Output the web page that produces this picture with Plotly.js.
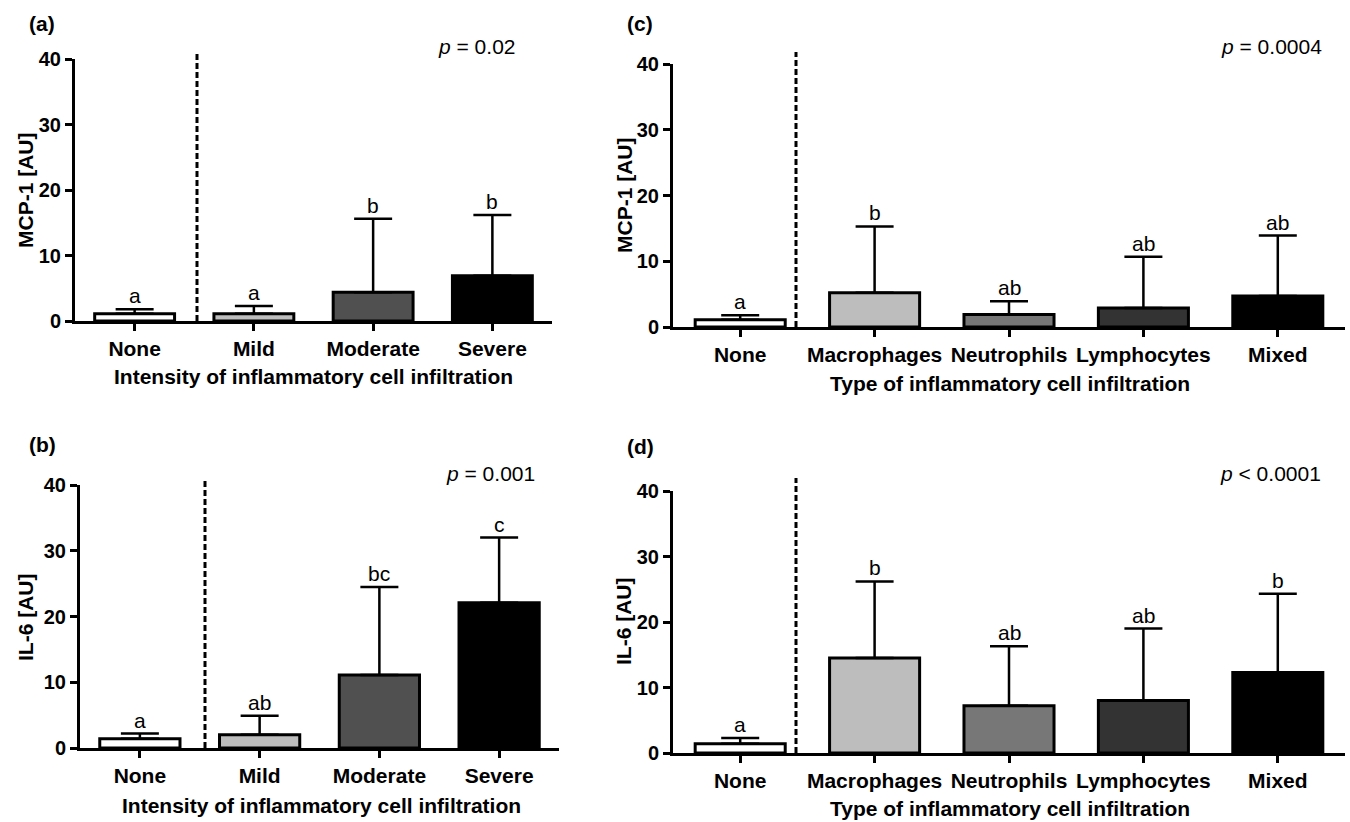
<!DOCTYPE html>
<html>
<head>
<meta charset="utf-8">
<script src="https://cdn.plot.ly/plotly-3.0.1.min.js"></script>
<style>
  html, body { margin: 0; padding: 0; background: #fff; }
  #chart { width: 1350px; height: 822px; }
</style>
</head>
<body>
<div id="chart"></div>
<script>
// ---------- data ----------
const catsIntensity = ['None', 'Mild', 'Moderate', 'Severe'];
const catsType = ['None', 'Macrophages', 'Neutrophils', 'Lymphocytes', 'Mixed'];

const mcp1IntensityMean = [1.1, 1.1, 4.4, 6.9];
const mcp1IntensitySD   = [0.7, 1.2, 11.2, 9.3];
const il6IntensityMean  = [1.4, 2.0, 11.1, 22.1];
const il6IntensitySD    = [0.8, 2.9, 13.4, 9.9];

const mcp1TypeMean = [1.1, 5.2, 1.9, 2.9, 4.7];
const mcp1TypeSD   = [0.7, 10.1, 2.0, 7.8, 9.2];
const il6TypeMean  = [1.4, 14.5, 7.2, 8.0, 12.3];
const il6TypeSD    = [0.9, 11.7, 9.1, 11.0, 12.0];

const lettersMcp1Intensity = ['a', 'a', 'b', 'b'];
const lettersIl6Intensity  = ['a', 'ab', 'bc', 'c'];
const lettersMcp1Type      = ['a', 'b', 'ab', 'ab', 'ab'];
const lettersIl6Type       = ['a', 'b', 'ab', 'ab', 'b'];

const pValues = ['<i>p</i> = 0.02', '<i>p</i> = 0.001', '<i>p</i> = 0.0004', '<i>p</i> < 0.0001'];
const panelLabels = ['(a)', '(b)', '(c)', '(d)'];
const yTitles = ['MCP-1 [AU]', 'IL-6 [AU]', 'MCP-1 [AU]', 'IL-6 [AU]'];
const xTitles = ['Intensity of inflammatory cell infiltration', 'Intensity of inflammatory cell infiltration',
                 'Type of inflammatory cell infiltration', 'Type of inflammatory cell infiltration'];
const yTicks = [0, 10, 20, 30, 40];

// ---------- styling / layout ----------
const W = 1350, H = 822;
const px = v => v / W;
const py = v => 1 - v / H;
const FONT = 'Arial, "Liberation Sans", Helvetica, sans-serif';

const colorsIntensity = ['#ffffff', '#bdbdbd', '#505050', '#000000'];
const colorsType = ['#ffffff', '#bdbdbd', '#777777', '#333333', '#000000'];

// panel geometry in pixels: x axis left/right, y-axis pixel of 0 and 40
const panels = [
  {cats: catsIntensity, mean: mcp1IntensityMean, sd: mcp1IntensitySD, letters: lettersMcp1Intensity, colors: colorsIntensity,
   x0: 75, x1: 552, yb: 321, yt: 59, sep: 197, sepTop: 52, lab: [27, 23], pv: [518, 46], yt_t: [25, 190], xt_t: [313, 377]},
  {cats: catsIntensity, mean: il6IntensityMean, sd: il6IntensitySD, letters: lettersIl6Intensity, colors: colorsIntensity,
   x0: 80, x1: 559, yb: 748, yt: 485, sep: 205, sepTop: 478, lab: [27, 445], pv: [537, 473], yt_t: [25, 617], xt_t: [321, 805]},
  {cats: catsType, mean: mcp1TypeMean, sd: mcp1TypeSD, letters: lettersMcp1Type, colors: colorsType,
   x0: 673, x1: 1345, yb: 327, yt: 64, sep: 796, sepTop: 52, lab: [625, 23], pv: [1324, 46], yt_t: [624, 195], xt_t: [1010, 383]},
  {cats: catsType, mean: il6TypeMean, sd: il6TypeSD, letters: lettersIl6Type, colors: colorsType,
   x0: 673, x1: 1345, yb: 753, yt: 491, sep: 796, sepTop: 478, lab: [625, 447], pv: [1323, 473], yt_t: [623, 621], xt_t: [1010, 808]}
];

const data = [];
const layout = {
  width: W, height: H,
  margin: {l: 0, r: 0, t: 0, b: 0, pad: 0},
  paper_bgcolor: '#ffffff', plot_bgcolor: 'rgba(0,0,0,0)',
  showlegend: false,
  font: {family: FONT, color: '#000'},
  annotations: [], shapes: []
};

panels.forEach((p, i) => {
  const n = i + 1;
  const xa = n === 1 ? 'x' : 'x' + n;
  const ya = n === 1 ? 'y' : 'y' + n;
  data.push({
    type: 'bar', x: p.cats, y: p.mean, xaxis: xa, yaxis: ya,
    width: 0.67,
    marker: {color: p.colors, line: {color: '#000', width: 3}},
    error_y: {type: 'data', symmetric: false, array: p.sd, arrayminus: p.sd.map(() => 0),
              color: '#000', thickness: 2.5, width: 19},
    hoverinfo: 'x+y'
  });
  layout['xaxis' + (n === 1 ? '' : n)] = {
    domain: [px(p.x0), px(p.x1)], anchor: ya, type: 'category',
    range: [-0.5, p.cats.length - 0.5],
    showline: true, linewidth: 3, linecolor: '#000', mirror: false,
    ticks: 'outside', ticklen: 7, tickwidth: 3, tickcolor: '#000',
    tickfont: {family: FONT, size: 21, weight: 700, color: '#000'},
    showgrid: false, zeroline: false, fixedrange: true
  };
  layout['yaxis' + (n === 1 ? '' : n)] = {
    domain: [py(p.yb), py(p.yt)], anchor: xa, range: [0, 40],
    tickvals: yTicks, ticktext: yTicks.map(String),
    showline: true, linewidth: 3, linecolor: '#000',
    ticks: 'outside', ticklen: 7, tickwidth: 3, tickcolor: '#000',
    tickfont: {family: FONT, size: 20, weight: 700, color: '#000'},
    showgrid: false, zeroline: false, fixedrange: true
  };
  // significance letters
  p.cats.forEach((c, k) => {
    layout.annotations.push({
      xref: xa, yref: ya, x: c, y: p.mean[k] + p.sd[k],
      text: p.letters[k], showarrow: false, yanchor: 'bottom', yshift: 0,
      font: {family: FONT, size: 21, color: '#000'}
    });
  });
  // panel label
  layout.annotations.push({xref: 'paper', yref: 'paper', x: px(p.lab[0]), y: py(p.lab[1]),
    xanchor: 'left', yanchor: 'middle', text: panelLabels[i], showarrow: false,
    font: {family: FONT, size: 21, weight: 700, color: '#000'}});
  // p value
  layout.annotations.push({xref: 'paper', yref: 'paper', x: px(p.pv[0]), y: py(p.pv[1]),
    xanchor: 'right', yanchor: 'middle', text: pValues[i], showarrow: false,
    font: {family: FONT, size: 21, color: '#000'}});
  // y title
  layout.annotations.push({xref: 'paper', yref: 'paper', x: px(p.yt_t[0]), y: py(p.yt_t[1]),
    xanchor: 'center', yanchor: 'middle', textangle: -90, text: yTitles[i], showarrow: false,
    font: {family: FONT, size: 21, weight: 700, color: '#000'}});
  // x title
  layout.annotations.push({xref: 'paper', yref: 'paper', x: px(p.xt_t[0]), y: py(p.xt_t[1]),
    xanchor: 'center', yanchor: 'middle', text: xTitles[i], showarrow: false,
    font: {family: FONT, size: 21, weight: 700, color: '#000'}});
  // dashed separator between control and groups
  layout.shapes.push({type: 'line', xref: 'paper', yref: 'paper',
    x0: px(p.sep), x1: px(p.sep), y0: py(p.yb), y1: py(p.sepTop),
    line: {color: '#000', width: 3, dash: '6px,3px'}});
});

Plotly.newPlot('chart', data, layout, {displayModeBar: false, staticPlot: true});
</script>
</body>
</html>
